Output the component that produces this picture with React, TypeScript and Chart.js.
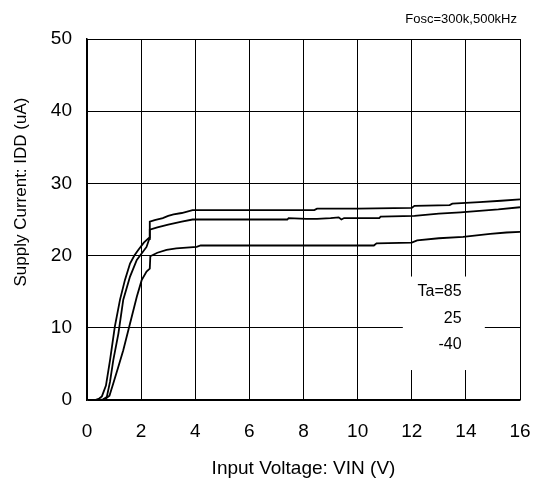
import React, { useEffect, useRef } from "react";
import { Chart, registerables } from "chart.js";

Chart.register(...registerables);

const FONT = "'Liberation Sans', Arial, Helvetica, sans-serif";

// Axis ranges / ticks
const xMin = 0;
const xMax = 16;
const xStep = 2;
const yMin = 0;
const yMax = 50;
const yStep = 10;

// Ta = 85 (top curve)
const vin85 = [0, 0.3, 0.45, 0.55, 0.7, 0.85, 1.03, 1.22, 1.4, 1.59, 1.75, 1.9, 2.1, 2.3, 2.32, 2.5, 2.8, 3.0, 3.2, 3.5, 3.9, 4.5, 6, 8.4, 8.5, 10, 12.0, 12.1, 13.4, 13.5, 14.5, 15.3, 16];
const idd85 = [0, 0, 0.2, 0.5, 2.0, 5.5, 10.2, 13.9, 16.6, 18.9, 20.0, 20.8, 21.8, 22.5, 24.7, 24.9, 25.2, 25.5, 25.7, 25.9, 26.3, 26.3, 26.3, 26.3, 26.5, 26.5, 26.6, 26.9, 27.0, 27.2, 27.4, 27.6, 27.8];

// Ta = 25 (middle curve)
const vin25 = [0, 0.4, 0.6, 0.73, 0.85, 0.97, 1.16, 1.34, 1.59, 1.84, 2.2, 2.3, 2.32, 2.6, 3.0, 3.5, 3.9, 6, 7.4, 7.45, 8.1, 8.5, 9.0, 9.3, 9.4, 9.5, 10, 10.8, 10.85, 12.1, 13.0, 13.8, 14.5, 15.2, 16];
const idd25 = [0, 0, 0.1, 0.4, 2.5, 5.5, 9.2, 13.9, 17.1, 19.4, 21.2, 22.3, 23.6, 23.9, 24.3, 24.7, 25.0, 25.0, 25.0, 25.2, 25.1, 25.1, 25.2, 25.3, 25.0, 25.2, 25.2, 25.2, 25.4, 25.5, 25.8, 26.0, 26.2, 26.4, 26.7];

// Ta = -40 (bottom curve)
const vinM40 = [0, 0.55, 0.7, 0.83, 0.97, 1.15, 1.34, 1.59, 1.84, 2.02, 2.2, 2.32, 2.34, 2.6, 2.94, 3.3, 4.05, 4.2, 6, 8, 10.6, 10.7, 12.0, 12.2, 13.0, 13.9, 14.9, 15.5, 16];
const iddM40 = [0, 0, 0.2, 0.6, 2.3, 4.5, 6.9, 10.6, 14.3, 16.6, 17.8, 18.2, 19.9, 20.4, 20.8, 21.0, 21.2, 21.4, 21.4, 21.4, 21.4, 21.7, 21.8, 22.1, 22.4, 22.6, 23.0, 23.2, 23.3];

const seriesLabels = ["Ta=85", "25", "-40"];
const xTitle = "Input Voltage: VIN (V)";
const yTitle = "Supply Current: IDD (uA)";
const noteText = "Fosc=300k,500kHz";

// Legend box extent, in data units
const legendBoxX = [11.67, 14.7];
const legendBoxY = [4.15, 17.1];
const legendTextX = 13.84;
const legendTextY = [15.0, 11.3, 7.7];
// y-axis title centre (data units)
const yTitleCenter = 28.8;

const toPoints = (xs: number[], ys: number[]) => xs.map((x, i) => ({ x, y: ys[i] }));

const decorPlugin = {
  id: "decor",
  beforeDatasetsDraw(chart: any) {
    const { ctx, scales } = chart;
    const xs = scales.x;
    const ys = scales.y;
    const l = xs.getPixelForValue(legendBoxX[0]);
    const r = xs.getPixelForValue(legendBoxX[1]);
    const t = ys.getPixelForValue(legendBoxY[1]);
    const b = ys.getPixelForValue(legendBoxY[0]);
    ctx.save();
    ctx.fillStyle = "#fff";
    ctx.fillRect(l, t, r - l, b - t);
    ctx.fillStyle = "#000";
    ctx.font = `16px ${FONT}`;
    ctx.textAlign = "right";
    ctx.textBaseline = "middle";
    seriesLabels.forEach((s, i) => {
      ctx.fillText(s, xs.getPixelForValue(legendTextX), ys.getPixelForValue(legendTextY[i]));
    });
    ctx.restore();
  },
  afterDraw(chart: any) {
    const { ctx, chartArea, scales } = chart;
    ctx.save();
    ctx.fillStyle = "#000";
    ctx.font = `13px ${FONT}`;
    ctx.textAlign = "right";
    ctx.textBaseline = "middle";
    ctx.fillText(noteText, chartArea.right - 3, chartArea.top - 20);
    // y-axis title
    ctx.font = `17px ${FONT}`;
    ctx.textAlign = "center";
    ctx.translate(21, scales.y.getPixelForValue(yTitleCenter));
    ctx.rotate(-Math.PI / 2);
    ctx.fillText(yTitle, 0, 0);
    ctx.restore();
  },
};

export default function App() {
  const ref = useRef<HTMLCanvasElement | null>(null);
  useEffect(() => {
    if (!ref.current) return;
    const lineStyle = {
      borderColor: "#000",
      borderWidth: 1.8,
      pointRadius: 0,
      fill: false,
      tension: 0,
    };
    const chart = new Chart(ref.current, {
      type: "line",
      data: {
        datasets: [
          { label: seriesLabels[0], data: toPoints(vin85, idd85), ...lineStyle },
          { label: seriesLabels[1], data: toPoints(vin25, idd25), ...lineStyle },
          { label: seriesLabels[2], data: toPoints(vinM40, iddM40), ...lineStyle },
        ],
      },
      options: {
        responsive: false,
        animation: false,
        devicePixelRatio: 1,
        layout: { padding: { left: 0, top: 39, right: 23, bottom: 0 } },
        plugins: {
          legend: { display: false },
          tooltip: { enabled: false },
          title: { display: false },
        },
        scales: {
          x: {
            type: "linear",
            min: xMin,
            max: xMax,
            afterFit: (s: any) => {
              s.height = 81;
              s.paddingLeft = 0;
              s.paddingRight = 0;
            },
            ticks: {
              stepSize: xStep,
              color: "#000",
              font: { family: FONT, size: 19 },
              padding: 20,
              maxRotation: 0,
            },
            grid: { color: "#000", lineWidth: 1, drawTicks: false },
            border: { display: true, color: "#000", width: 1.5 },
            title: {
              display: true,
              text: xTitle,
              color: "#000",
              font: { family: FONT, size: 19 },
              padding: { top: 0, bottom: 1 },
            },
          },
          y: {
            type: "linear",
            min: yMin,
            max: yMax,
            afterFit: (s: any) => {
              s.width = 87;
            },
            ticks: {
              stepSize: yStep,
              color: "#000",
              font: { family: FONT, size: 19 },
              padding: 15,
            },
            grid: { color: "#000", lineWidth: 1, drawTicks: false },
            border: { display: true, color: "#000", width: 1.5 },
          },
        },
      },
      plugins: [decorPlugin],
    });
    return () => chart.destroy();
  }, []);
  return (
    <div style={{ position: "fixed", left: 0, top: 0, width: 543, height: 481, background: "#fff" }}>
      <canvas ref={ref} width={543} height={481} style={{ display: "block" }} />
    </div>
  );
}
